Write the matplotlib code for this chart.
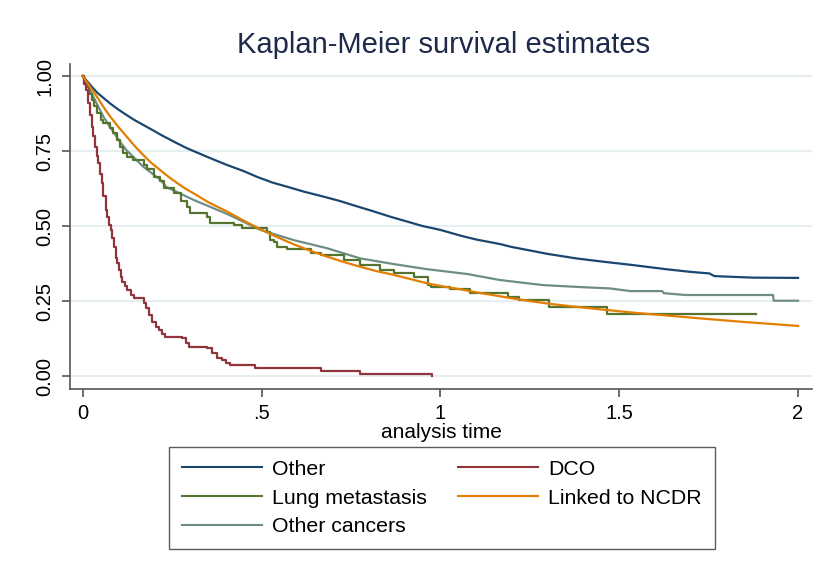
import matplotlib
matplotlib.use("Agg")
import matplotlib.pyplot as plt
from matplotlib.lines import Line2D

plt.rcParams['font.family'] = ['Liberation Sans', 'DejaVu Sans']

# ---- data ----
other_t = [0, 0.02, 0.04, 0.076, 0.10, 0.12, 0.145, 0.169, 0.195, 0.22, 0.26, 0.29, 0.343, 0.40,
           0.45, 0.487, 0.53, 0.58, 0.62, 0.673, 0.72, 0.76, 0.81, 0.86, 0.95, 1.0, 1.056, 1.10,
           1.166, 1.2, 1.261, 1.30, 1.38, 1.448, 1.537, 1.631, 1.70, 1.752, 1.766, 1.872, 2.0]
other_s = [1, 0.972, 0.945, 0.909, 0.888, 0.872, 0.853, 0.837, 0.82, 0.803, 0.778, 0.76, 0.733,
           0.705, 0.683, 0.664, 0.645, 0.628, 0.614, 0.598, 0.583, 0.568, 0.55, 0.531, 0.50, 0.487,
           0.468, 0.455, 0.44, 0.43, 0.416, 0.407, 0.392, 0.382, 0.37, 0.356, 0.347, 0.342,
           0.333, 0.328, 0.327]

ncdr_t = [0, 0.02, 0.039, 0.058, 0.076, 0.10, 0.123, 0.145, 0.169, 0.19, 0.216, 0.24, 0.262,
          0.285, 0.31, 0.35, 0.404, 0.45, 0.497, 0.54, 0.59, 0.635, 0.683, 0.73, 0.776, 0.82,
          0.87, 0.92, 0.963, 1.01, 1.056, 1.11, 1.166, 1.21, 1.261, 1.31, 1.37, 1.448, 1.55,
          1.65, 1.727, 1.85, 2.0]
ncdr_s = [1, 0.965, 0.932, 0.897, 0.866, 0.83, 0.798, 0.767, 0.737, 0.712, 0.687, 0.664, 0.645,
          0.626, 0.609, 0.58, 0.548, 0.518, 0.489, 0.465, 0.439, 0.418, 0.398, 0.38, 0.364, 0.35,
          0.337, 0.322, 0.309, 0.298, 0.289, 0.277, 0.266, 0.257, 0.248, 0.24, 0.232, 0.222, 0.21,
          0.2, 0.192, 0.18, 0.167]

othc_t = [0, 0.02, 0.039, 0.058, 0.076, 0.104, 0.123, 0.169, 0.218, 0.234, 0.31, 0.404, 0.497,
          0.59, 0.683, 0.776, 0.87, 0.963, 1.075, 1.166, 1.287, 1.40, 1.473, 1.532, 1.62, 1.625,
          1.686, 1.93, 1.932, 2.0]
othc_s = [1, 0.953, 0.909, 0.864, 0.831, 0.781, 0.752, 0.698, 0.653, 0.630, 0.587, 0.54, 0.487,
          0.453, 0.426, 0.392, 0.373, 0.356, 0.34, 0.32, 0.303, 0.296, 0.292, 0.283, 0.283, 0.276,
          0.27, 0.27, 0.251, 0.251]

lung_t = [0, 0.005, 0.01, 0.018, 0.025, 0.032, 0.039, 0.05, 0.058, 0.076, 0.085, 0.095, 0.105,
          0.114, 0.123, 0.14, 0.171, 0.18, 0.20, 0.215, 0.227, 0.255, 0.275, 0.292, 0.30, 0.348,
          0.357, 0.422, 0.446, 0.516, 0.525, 0.535, 0.544, 0.572, 0.637, 0.665, 0.73, 0.776, 0.832,
          0.87, 0.926, 0.966, 0.973, 1.026, 1.082, 1.19, 1.22, 1.305, 1.465, 1.882]
lung_s = [1, 0.98, 0.964, 0.94, 0.92, 0.90, 0.876, 0.855, 0.842, 0.826, 0.81, 0.787, 0.765,
          0.745, 0.73, 0.72, 0.705, 0.69, 0.665, 0.650, 0.626, 0.609, 0.585, 0.564, 0.542, 0.531,
          0.509, 0.503, 0.492, 0.481, 0.455, 0.448, 0.431, 0.422, 0.409, 0.403, 0.387, 0.37, 0.353,
          0.342, 0.331, 0.305, 0.296, 0.289, 0.278, 0.262, 0.255, 0.229, 0.207, 0.207]

dco_t = [0, 0.005, 0.01, 0.015, 0.02, 0.025, 0.03, 0.034, 0.039, 0.044, 0.048, 0.053, 0.058,
         0.064, 0.069, 0.074, 0.078, 0.083, 0.087, 0.092, 0.097, 0.101, 0.106, 0.11, 0.118, 0.125,
         0.134, 0.143, 0.17, 0.176, 0.185, 0.194, 0.204, 0.213, 0.222, 0.231, 0.278, 0.288, 0.297,
         0.348, 0.362, 0.376, 0.39, 0.40, 0.413, 0.483, 0.665, 0.776, 0.977]
dco_s = [1, 0.975, 0.953, 0.909, 0.87, 0.831, 0.80, 0.764, 0.735, 0.709, 0.675, 0.642, 0.60,
         0.553, 0.531, 0.505, 0.487, 0.459, 0.43, 0.392, 0.376, 0.355, 0.331, 0.315, 0.30, 0.287,
         0.27, 0.259, 0.245, 0.226, 0.205, 0.181, 0.165, 0.153, 0.14, 0.131, 0.126, 0.11, 0.098,
         0.092, 0.076, 0.059, 0.053, 0.045, 0.037, 0.026, 0.017, 0.007, 0.0]

x_ticks = [0, 0.5, 1, 1.5, 2]
x_labels = ["0", ".5", "1", "1.5", "2"]
y_ticks = [0, 0.25, 0.5, 0.75, 1.0]
y_labels = ["0.00", "0.25", "0.50", "0.75", "1.00"]

C_OTHER = "#1a476f"
C_DCO = "#90353b"
C_LUNG = "#55752f"
C_NCDR = "#e37e00"
C_OTHC = "#6e8e84"

fig = plt.figure(figsize=(8.23, 5.62), dpi=100)
ax = fig.add_axes([70/823, 1-389/562, 742/823, 325/562])

lw = 1.6
ax.plot(other_t, other_s, color=C_OTHER, lw=lw, zorder=5)
ax.step(dco_t, dco_s, where='post', color=C_DCO, lw=lw, zorder=5)
ax.step(lung_t, lung_s, where='post', color=C_LUNG, lw=lw, zorder=4)
ax.plot(ncdr_t, ncdr_s, color=C_NCDR, lw=lw, zorder=6)
ax.plot(othc_t, othc_s, color=C_OTHC, lw=lw, zorder=3)

ax.set_xlim(-0.0355, 2.039)
ax.set_ylim(-0.0433, 1.04)
ax.set_xticks(x_ticks)
ax.set_xticklabels(x_labels, fontsize=14.5)
ax.set_yticks(y_ticks)
ax.set_yticklabels(y_labels, fontsize=14.5, rotation=90, va='center')
ax.grid(axis='y', color='#e6eef1', lw=1.5, zorder=0)
ax.set_axisbelow(True)
for s in ['top', 'right']:
    ax.spines[s].set_visible(False)
for s in ['left', 'bottom']:
    ax.spines[s].set_color('#555555')
    ax.spines[s].set_linewidth(1.2)
ax.tick_params(direction='out', length=6, width=1.2, color='#555555', pad=5, labelcolor='black')
ax.set_xlabel("analysis time", fontsize=15, labelpad=0)

fig.text(444/823, 1-45/562, "Kaplan-Meier survival estimates", ha='center', va='center',
         fontsize=21, color='#1e2a4a')

handles = [Line2D([], [], color=C_OTHER, lw=1.5), Line2D([], [], color=C_LUNG, lw=1.5),
           Line2D([], [], color=C_OTHC, lw=1.5), Line2D([], [], color=C_DCO, lw=1.5),
           Line2D([], [], color=C_NCDR, lw=1.5)]
labels = ["Other", "Lung metastasis", "Other cancers", "DCO", "Linked to NCDR"]
leg = fig.legend(handles, labels, ncol=2, loc='upper left',
                 bbox_to_anchor=(169/823, 1-447/562),
                 fontsize=15.3, frameon=True, fancybox=False, edgecolor='#333333',
                 handlelength=3.76, handletextpad=0.47, labelspacing=0.46, borderpad=0.6,
                 columnspacing=1.5, borderaxespad=0)
leg.get_frame().set_linewidth(1.0)

fig.savefig("out.png", dpi=100, facecolor='white')
